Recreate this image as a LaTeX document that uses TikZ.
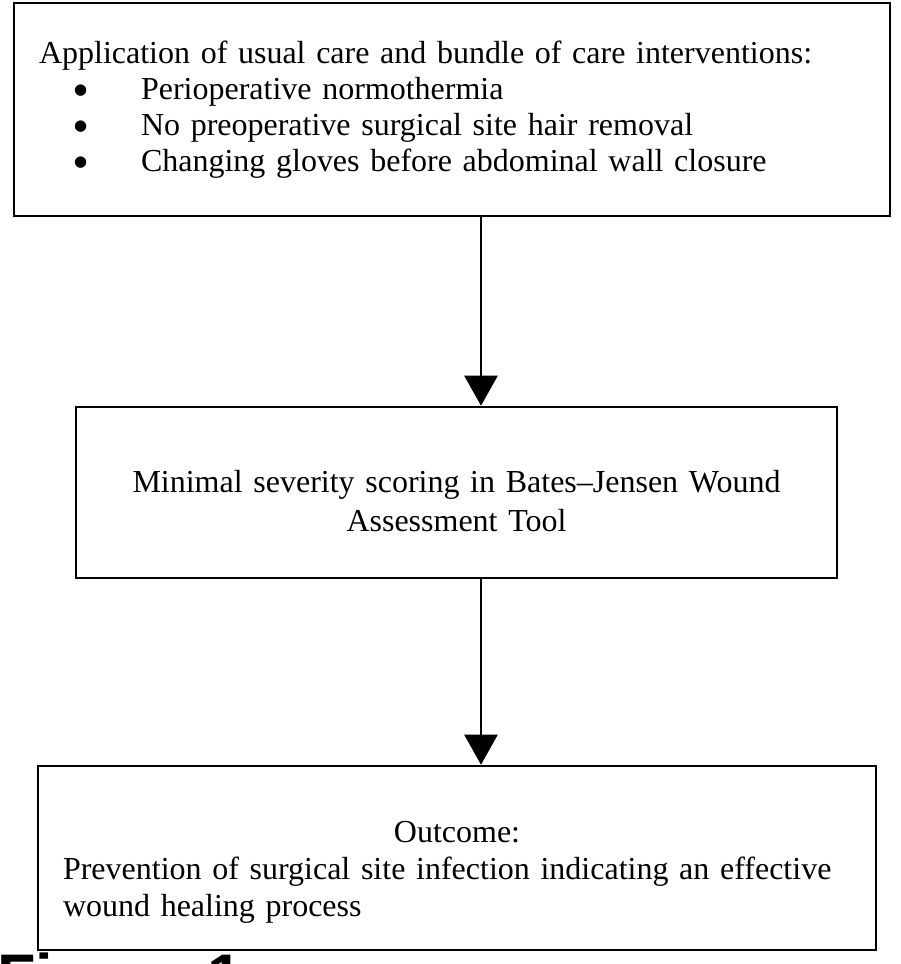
\documentclass[tikz,border=0pt]{standalone}
\usepackage{fontspec}
\setmainfont{Liberation Serif}
\newfontfamily\figfont{Liberation Sans}
\newfontfamily\dotfont{DejaVu Sans}
\usepackage{tikz}
\usetikzlibrary{arrows.meta}
\usetikzlibrary{calc}
\hyphenpenalty=10000

\tikzset{
  box/.style={draw, line width=2.6pt, inner xsep=25pt, inner ysep=0pt,
    font=\fontsize{32}{37}\selectfont},
  arr/.style={line width=2.6pt, -{Triangle[width=33pt,length=30pt]}}
}
\newcommand\carebullet[1]{\makebox[102pt][l]{\hspace*{35pt}\raisebox{4.5pt}{\dotfont\fontsize{15}{15}\selectfont ●}}#1}

\begin{document}
\begin{tikzpicture}[x=1pt, y=-1pt]
      \path[use as bounding box, clip] (0,0) rectangle (901,964); %page size

      %draw boxes
      \node[box, text width=826pt, minimum height=213pt, align=left,
            font=\fontsize{32}{36}\selectfont] (care) at (452,109.5)
        {Application of usual care and bundle of care interventions:\\
         \carebullet{Perioperative normothermia}\\
         \carebullet{No preoperative surgical site hair removal}\\
         \carebullet{Changing gloves before abdominal wall closure}};
      \node[box, text width=711pt, minimum height=171pt, align=center,
            font=\fontsize{32}{39}\selectfont] (score) at (456.5,492.5)
        {\rule{0pt}{40pt}Minimal severity scoring in Bates--Jensen Wound\\ Assessment Tool};
      \node[box, text width=788pt, minimum height=184pt, align=left] (outcome) at (457,858)
        {\rule{0pt}{50pt}\makebox[\linewidth]{Outcome:}\\
         Prevention of surgical site infection indicating an effective\\
         wound healing process};

      %draw arrows
      \draw[arr] ([xshift=29pt]care.south) -- ([xshift=29pt]care.south |- score.north);
      \draw[arr] ([xshift=24.5pt]score.south) -- ([xshift=24.5pt]score.south |- outcome.north);

      %draw caption (cut off at the page edge)
      \node[anchor=base west, inner sep=0pt, font=\figfont\bfseries\fontsize{63}{63}\selectfont]
        (caption) at (-3,998) {Figure 1};
\end{tikzpicture}
\end{document}
